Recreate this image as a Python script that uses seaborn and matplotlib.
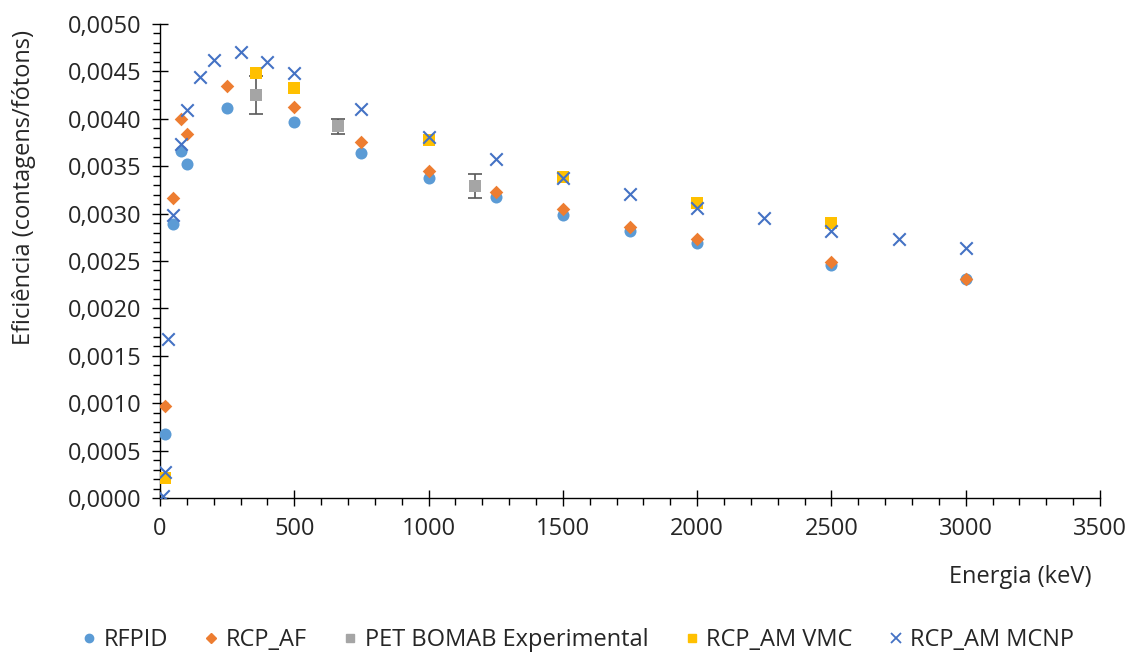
import matplotlib
matplotlib.use("Agg")
import matplotlib.pyplot as plt
import seaborn as sns
import pandas as pd
from matplotlib.lines import Line2D
from matplotlib.ticker import MultipleLocator, FuncFormatter

# ---- data ----
rfpid_e = [20, 50, 80, 100, 250, 500, 750, 1000, 1250, 1500, 1750, 2000, 2500, 3000]
rfpid_y = [0.00068, 0.00289, 0.00366, 0.00352, 0.00411, 0.00397, 0.00364, 0.00338,
           0.00317, 0.00298, 0.00282, 0.00269, 0.00246, 0.00231]

rcpaf_e = [20, 50, 80, 100, 250, 500, 750, 1000, 1250, 1500, 1750, 2000, 2500, 3000]
rcpaf_y = [0.00097, 0.00316, 0.00400, 0.00384, 0.00435, 0.00412, 0.00376, 0.00345,
           0.00323, 0.00305, 0.00286, 0.00273, 0.00249, 0.00231]

pet_e = [356, 662, 1173]
pet_y = [0.00425, 0.00392, 0.00329]
pet_err = [0.00020, 0.00008, 0.00013]

vmc_e = [20, 356, 500, 1000, 1500, 2000, 2500]
vmc_y = [0.00021, 0.00448, 0.00433, 0.00378, 0.00339, 0.00311, 0.00290]

mcnp_e = [10, 20, 30, 50, 80, 100, 150, 200, 300, 400, 500, 750, 1000, 1250, 1500,
          1750, 2000, 2250, 2500, 2750, 3000]
mcnp_y = [0.00002, 0.00027, 0.00168, 0.00299, 0.00373, 0.00409, 0.00444, 0.00462,
          0.00470, 0.00460, 0.00448, 0.00410, 0.00381, 0.00358, 0.00338, 0.00321,
          0.00306, 0.00295, 0.00282, 0.00273, 0.00264]

labels = ["RFPID", "RCP_AF", "PET BOMAB Experimental", "RCP_AM VMC", "RCP_AM MCNP"]
colors = ["#5B9BD5", "#ED7D31", "#A5A5A5", "#FFC000", "#4472C4"]

sns.set_theme(style="white")
plt.rcParams['font.family'] = ['Open Sans', 'DejaVu Sans']
text_color = "#262626"
fs = 17

fig = plt.figure(figsize=(11.29, 6.56), dpi=100)
ax = fig.add_axes([160/1129, 1-498/656, 940/1129, 474/656])

df_rf = pd.DataFrame({"E": rfpid_e, "y": rfpid_y})
df_af = pd.DataFrame({"E": rcpaf_e, "y": rcpaf_y})
df_pet = pd.DataFrame({"E": pet_e, "y": pet_y})
df_vmc = pd.DataFrame({"E": vmc_e, "y": vmc_y})
df_mc = pd.DataFrame({"E": mcnp_e, "y": mcnp_y})

sns.scatterplot(data=df_rf, x="E", y="y", ax=ax, marker="o", s=75, color=colors[0],
                edgecolor=colors[0], linewidth=0, zorder=3)
sns.scatterplot(data=df_af, x="E", y="y", ax=ax, marker="D", s=48, color=colors[1],
                edgecolor=colors[1], linewidth=0, zorder=3)
ax.errorbar(pet_e, pet_y, yerr=pet_err, fmt="none", ecolor="#595959", elinewidth=1.2,
            capsize=5, capthick=1.2, zorder=3)
sns.scatterplot(data=df_pet, x="E", y="y", ax=ax, marker="s", s=72, color=colors[2],
                edgecolor=colors[2], linewidth=0, zorder=3)
sns.scatterplot(data=df_vmc, x="E", y="y", ax=ax, marker="s", s=72, color=colors[3],
                edgecolor=colors[3], linewidth=0, zorder=3)
sns.scatterplot(data=df_mc, x="E", y="y", ax=ax, marker="x", s=80, color=colors[4],
                linewidth=1.5, zorder=3)

ax.set_xlim(0, 3500)
ax.set_ylim(0, 0.005)
ax.xaxis.set_major_locator(MultipleLocator(500))
ax.xaxis.set_minor_locator(MultipleLocator(100))
ax.yaxis.set_major_locator(MultipleLocator(0.0005))
ax.yaxis.set_minor_locator(MultipleLocator(0.0001))
ax.yaxis.set_major_formatter(FuncFormatter(lambda v, p: f"{v:.4f}".replace(".", ",")))

for side in ["top", "right"]:
    ax.spines[side].set_visible(False)
for side in ["left", "bottom"]:
    ax.spines[side].set_color("#000000")
    ax.spines[side].set_linewidth(1.0)

ax.tick_params(which="major", direction="inout", length=11, width=1.0, color="#000000",
               labelsize=fs, labelcolor=text_color)
ax.tick_params(axis="x", which="major", pad=8)
ax.tick_params(axis="y", which="major", pad=8)
ax.tick_params(which="minor", direction="out", length=5, width=1.0, color="#000000")
ax.tick_params(which="both", bottom=True, left=True)

ax.set_xlabel("Energia (keV)", fontsize=fs, color=text_color)
ax.xaxis.set_label_coords(0.915, -0.166)
ax.xaxis.label.set_va("center")
ax.set_ylabel("Eficiência (contagens/fótons)", fontsize=fs, color=text_color)
ax.yaxis.set_label_coords(-0.145, 0.655)
ax.yaxis.label.set_va("center")

handles = [
    Line2D([], [], ls="none", marker="o", ms=6, color=colors[0], mec=colors[0]),
    Line2D([], [], ls="none", marker="D", ms=5.5, color=colors[1], mec=colors[1]),
    Line2D([], [], ls="none", marker="s", ms=6, color=colors[2], mec=colors[2]),
    Line2D([], [], ls="none", marker="s", ms=6, color=colors[3], mec=colors[3]),
    Line2D([], [], ls="none", marker="x", ms=7, color=colors[4], mew=1.3),
]
fig.legend(handles, labels, loc="center", bbox_to_anchor=(0.51, 1-640/656), ncol=5,
           frameon=False, fontsize=fs, handletextpad=0.1, columnspacing=1.35,
           handlelength=1.0, labelcolor=text_color)

fig.savefig("out.png", dpi=100)
